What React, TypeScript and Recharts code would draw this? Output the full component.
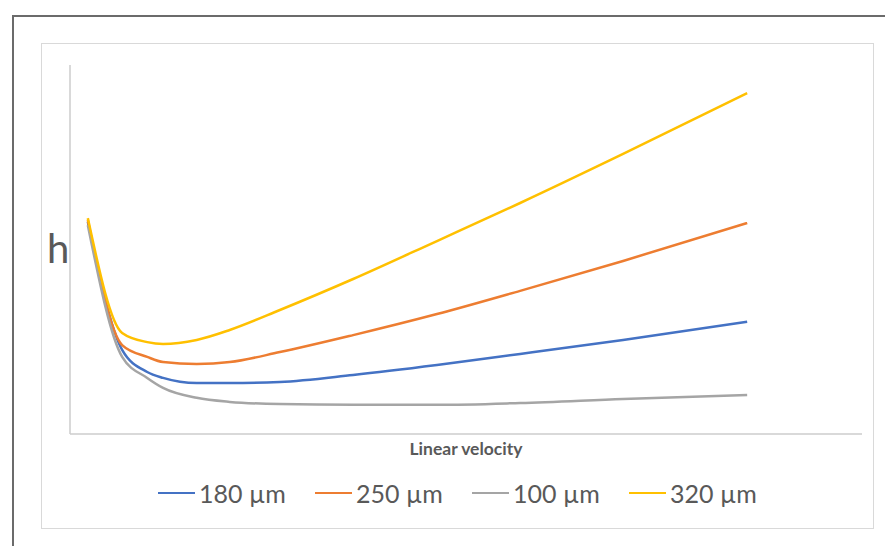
import React from 'react';
import { LineChart, Line, XAxis, YAxis } from 'recharts';

const velocity = [0.27, 0.79, 1.17, 1.41, 1.92, 2.42, 3.18, 4.29, 5.56, 6.82, 8.38, 10.26];
const h180 = [5.75, 2.28, 1.68, 1.52, 1.38, 1.38, 1.41, 1.6, 1.87, 2.17, 2.55, 3.04];
const h250 = [5.8, 2.41, 2.09, 1.95, 1.9, 1.95, 2.22, 2.68, 3.25, 3.88, 4.69, 5.72];
const h100 = [5.66, 2.09, 1.52, 1.25, 0.98, 0.87, 0.81, 0.79, 0.79, 0.84, 0.95, 1.06];
const h320 = [5.85, 2.74, 2.49, 2.44, 2.55, 2.82, 3.36, 4.2, 5.23, 6.26, 7.59, 9.24];

const seriesNames = ['180 µm', '250 µm', '100 µm', '320 µm'];
const seriesKeys = ['s180', 's250', 's100', 's320'];
const seriesColors = ['#4472C4', '#ED7D31', '#A5A5A5', '#FFC000'];

const data = velocity.map((v, i) => ({
  v,
  s180: h180[i],
  s250: h250[i],
  s100: h100[i],
  s320: h320[i],
}));

const FONT = 'Lato, "Open Sans", sans-serif';

export default function App() {
  return (
    <div style={{ position: 'absolute', left: 0, top: 0, width: 885, height: 546, background: '#fff', overflow: 'hidden', fontFamily: FONT }}>
      <div style={{ position: 'absolute', left: 12, top: 15, width: 900, height: 600, borderTop: '2px solid #6b6b6b', borderLeft: '2px solid #6b6b6b' }} />
      <div style={{ position: 'absolute', left: 41, top: 43, width: 831, height: 484, border: '1px solid #d9d9d9' }} />
      <div style={{ position: 'absolute', left: 0, top: 0 }}>
        <LineChart width={885} height={546} data={data} margin={{ top: 65, right: 23, bottom: 111, left: 69 }}>
          <XAxis type="number" dataKey="v" domain={[0, 12]} tick={false} tickLine={false} height={1} axisLine={{ stroke: '#cccccc', strokeWidth: 1.5 }} />
          <YAxis type="number" domain={[0, 10]} tick={false} tickLine={false} width={1} axisLine={{ stroke: '#cccccc', strokeWidth: 1.5 }} />
          {seriesKeys.map((k, i) => (
            <Line key={k} type="monotone" dataKey={k} name={seriesNames[i]} stroke={seriesColors[i]} strokeWidth={2.5} dot={false} isAnimationActive={false} />
          ))}
        </LineChart>
      </div>
      <div style={{ position: 'absolute', left: 47, top: 224, fontSize: 40, color: '#595959', lineHeight: '48px' }}>h</div>
      <div style={{ position: 'absolute', left: 366, width: 200, top: 438, textAlign: 'center', fontSize: 17.5, fontWeight: 700, color: '#595959', lineHeight: '21px' }}>Linear velocity</div>
      <div style={{ position: 'absolute', left: 158, top: 478, display: 'flex', alignItems: 'center', height: 30 }}>
        {seriesNames.map((n, i) => (
          <div key={n} style={{ display: 'flex', alignItems: 'center', width: 157 }}>
            <div style={{ width: 37, height: 2.5, background: seriesColors[i], marginRight: 4 }} />
            <span style={{ fontSize: 25, color: '#595959', lineHeight: '30px' }}>{n}</span>
          </div>
        ))}
      </div>
    </div>
  );
}
